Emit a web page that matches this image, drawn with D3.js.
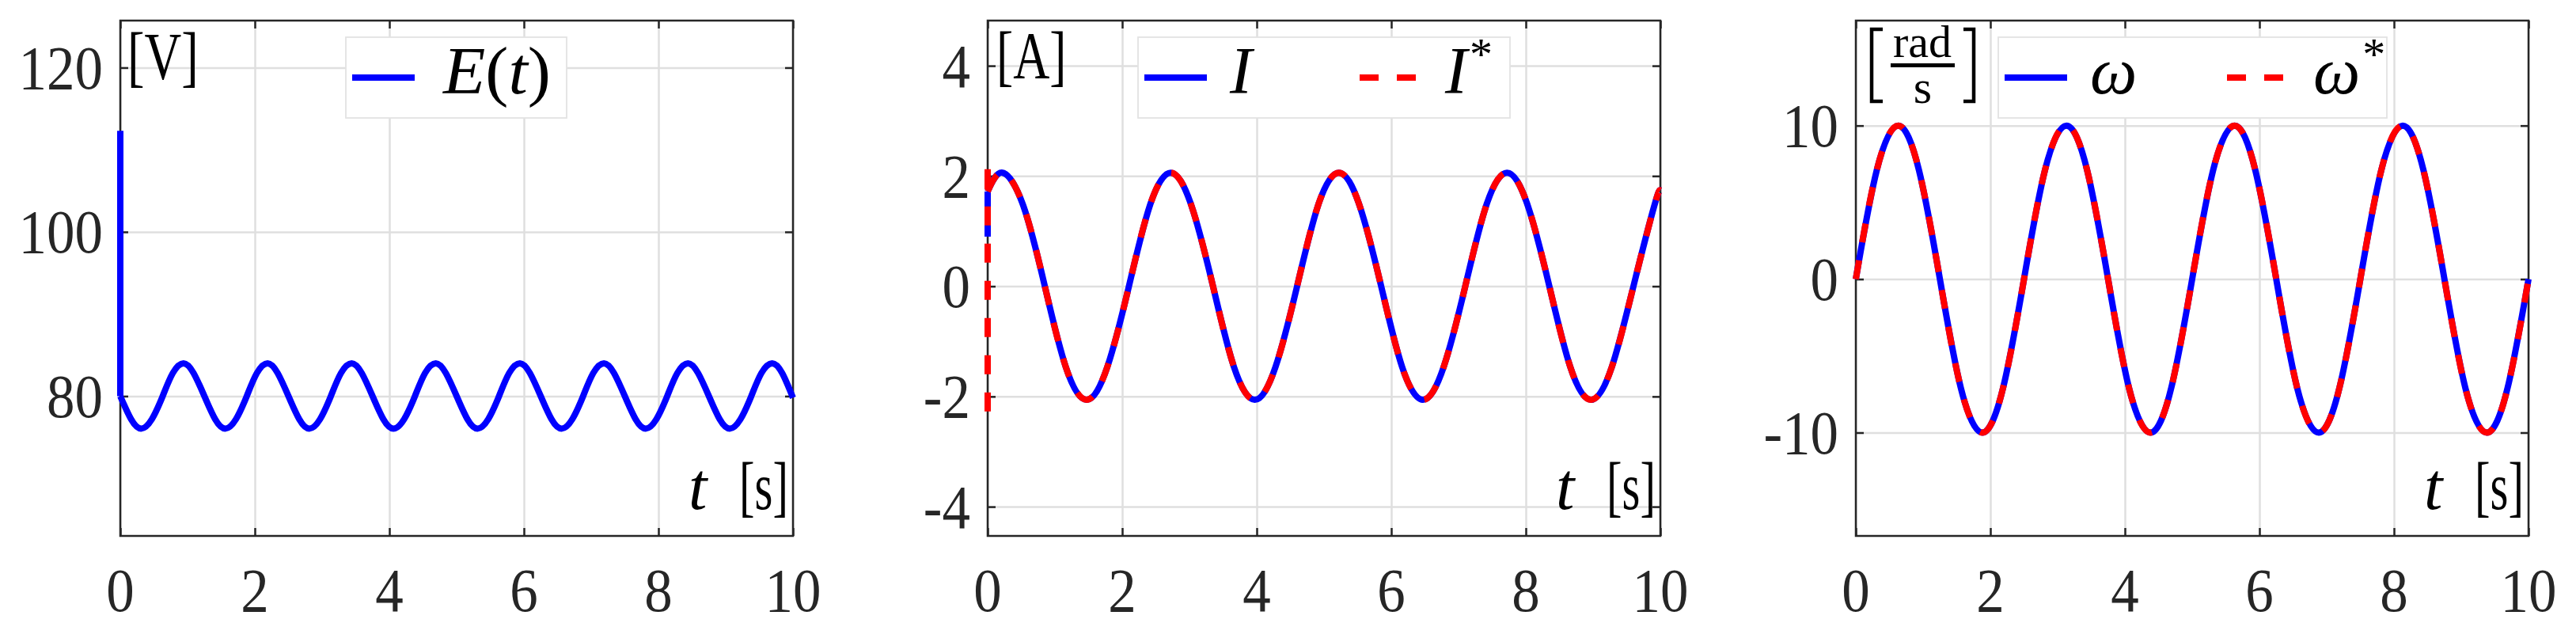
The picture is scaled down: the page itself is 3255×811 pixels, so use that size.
<!DOCTYPE html>
<html>
<head>
<meta charset="utf-8">
<script src="https://cdn.jsdelivr.net/npm/d3@7"></script>
</head>
<body style="margin:0;background:#fff">
<div id="chart"></div>
<script>
// ---- data ----
var xTicks = [0, 2, 4, 6, 8, 10];
var eTicks = [80, 100, 120];
var iTicks = [-4, -2, 0, 2, 4];
var wTicks = [-10, 0, 10];

var eDomain = [62.98, 125.73];
var iDomain = [-4.53, 4.82];
var wDomain = [-16.73, 16.84];

// E(t): start-up spike, then ripple around 80 V
var eSpikeT = [0, 0];
var eSpikeV = [112.3, 80];
var eT = [0, 0.16, 0.31, 0.47, 0.63, 0.78, 0.94, 1.09,
    1.25, 1.41, 1.56, 1.72, 1.88, 2.03, 2.19, 2.34,
    2.5, 2.66, 2.81, 2.97, 3.13, 3.28, 3.44, 3.59,
    3.75, 3.91, 4.06, 4.22, 4.38, 4.53, 4.69, 4.84,
    5, 5.16, 5.31, 5.47, 5.63, 5.78, 5.94, 6.09,
    6.25, 6.41, 6.56, 6.72, 6.88, 7.03, 7.19, 7.34,
    7.5, 7.66, 7.81, 7.97, 8.13, 8.28, 8.44, 8.59,
    8.75, 8.91, 9.06, 9.22, 9.38, 9.53, 9.69, 9.84, 10];
var eV = [80, 77.2, 76.05, 77.2, 80, 82.8, 84, 82.8,
    80, 77.2, 76.05, 77.2, 80, 82.8, 84, 82.8,
    80, 77.2, 76.05, 77.2, 80, 82.8, 84, 82.8,
    80, 77.2, 76.05, 77.2, 80, 82.8, 84, 82.8,
    80, 77.2, 76.05, 77.2, 80, 82.8, 84, 82.8,
    80, 77.2, 76.05, 77.2, 80, 82.8, 84, 82.8,
    80, 77.2, 76.05, 77.2, 80, 82.8, 84, 82.8,
    80, 77.2, 76.05, 77.2, 80, 82.8, 84, 82.8, 79.8];

// I and I*
var iStartT = [0, 0];
var iStartV = [0.9, 1.72];
var iRefStartT = [0, 0, 0];
var iRefStartV = [-2.27, 2.28, 1.72];
var iT = [0, 0.22, 0.53, 0.85, 1.16, 1.47, 1.78, 2.10, 2.41,
    2.72, 3.03, 3.35, 3.66, 3.97, 4.28, 4.60, 4.91,
    5.22, 5.53, 5.85, 6.16, 6.47, 6.78, 7.10, 7.41,
    7.72, 8.03, 8.35, 8.66, 8.97, 9.28, 9.60, 9.91, 10];
var iV = [1.72, 2.06, 1.46, 0, -1.46, -2.06, -1.46, 0, 1.46,
    2.06, 1.46, 0, -1.46, -2.06, -1.46, 0, 1.46,
    2.06, 1.46, 0, -1.46, -2.06, -1.46, 0, 1.46,
    2.06, 1.46, 0, -1.46, -2.06, -1.46, 0, 1.46, 1.74];
var iRefV = [1.72, 2.06, 1.46, 0, -1.46, -2.06, -1.46, 0, 1.46,
    2.06, 1.46, 0, -1.46, -2.06, -1.46, 0, 1.46,
    2.06, 1.46, 0, -1.46, -2.06, -1.46, 0, 1.46,
    2.06, 1.46, 0, -1.46, -2.06, -1.46, 0, 1.46, 1.74];

// omega and omega*
var wT = [0, 0.31, 0.63, 0.94, 1.25, 1.56, 1.88, 2.19,
    2.5, 2.81, 3.13, 3.44, 3.75, 4.06, 4.38, 4.69,
    5, 5.31, 5.63, 5.94, 6.25, 6.56, 6.88, 7.19,
    7.5, 7.81, 8.13, 8.44, 8.75, 9.06, 9.38, 9.69, 10];
var wV = [0, 7.07, 10, 7.07, 0, -7.07, -10, -7.07,
    0, 7.07, 10, 7.07, 0, -7.07, -10, -7.07,
    0, 7.07, 10, 7.07, 0, -7.07, -10, -7.07,
    0, 7.07, 10, 7.07, 0, -7.07, -10, -7.07, 0];
var wRefV = [0, 7.07, 10, 7.07, 0, -7.07, -10, -7.07,
    0, 7.07, 10, 7.07, 0, -7.07, -10, -7.07,
    0, 7.07, 10, 7.07, 0, -7.07, -10, -7.07,
    0, 7.07, 10, 7.07, 0, -7.07, -10, -7.07, 0];

// ---- layout ----
var W = 3255, H = 811;
var plotTop = 26, plotW = 850, plotH = 651;
var panelLeft = [152, 1248, 2345];
var axisColor = "#262626", gridColor = "#dfdfdf";
var blue = "#0000ff", red = "#ff0000";
var lw = 8, dash = "24,23";
var face = "'Liberation Serif'";

var svg = d3.select("#chart").append("svg")
    .attr("width", W)
    .attr("height", H)
    .style("display", "block");

svg.append("rect").attr("width", W).attr("height", H).attr("fill", "#fff");

var x = d3.scaleLinear().domain([0, 10]).range([0, plotW]);

// labels go on a top layer appended straight to the svg, not inside transformed groups
var textLayer;

function label(str, tx, ty, size, sx, italic) {
    var t = textLayer.append("text")
        .style("font-family", face)
        .attr("font-size", size)
        .attr("fill", "#000")
        .attr("x", tx / sx)
        .attr("y", ty);
    if (sx != 1) t.attr("transform", "scale(" + sx + ",1)");
    if (italic) t.style("font-style", "italic");
    if (str) t.text(str);
    return t;
}

function makePanel(i, yDomain, yTicks) {
    var ox = panelLeft[i], oy = plotTop;
    var g = svg.append("g")
        .attr("transform", "translate(" + ox + "," + oy + ")");
    var y = d3.scaleLinear().domain(yDomain).range([plotH, 0]);

    // grid
    g.append("g").attr("class", "grid")
        .attr("transform", "translate(0," + plotH + ")")
        .call(d3.axisBottom(x).tickValues(xTicks).tickSize(-plotH).tickFormat(""));
    g.append("g").attr("class", "grid")
        .call(d3.axisLeft(y).tickValues(yTicks).tickSize(-plotW).tickFormat(""));
    g.selectAll(".grid .domain").remove();
    g.selectAll(".grid line").attr("stroke", gridColor).attr("stroke-width", 2.5);

    // tick marks on all four sides, pointing in; labels written separately
    g.append("g").attr("class", "ax")
        .attr("transform", "translate(0," + plotH + ")")
        .call(d3.axisBottom(x).tickValues(xTicks).tickSize(-10).tickFormat(""));
    g.append("g").attr("class", "ax")
        .call(d3.axisLeft(y).tickValues(yTicks).tickSize(-10).tickFormat(""));
    g.append("g").attr("class", "ax")
        .call(d3.axisTop(x).tickValues(xTicks).tickSize(-10).tickFormat(""));
    g.append("g").attr("class", "ax")
        .attr("transform", "translate(" + plotW + ",0)")
        .call(d3.axisRight(y).tickValues(yTicks).tickSize(-10).tickFormat(""));
    g.selectAll(".ax .domain").remove();
    g.selectAll(".ax line").attr("stroke", axisColor).attr("stroke-width", 2.5);
    g.selectAll(".ax text").remove();

    g.append("rect")
        .attr("width", plotW)
        .attr("height", plotH)
        .attr("fill", "none")
        .attr("stroke", axisColor)
        .attr("stroke-width", 2.5);

    var lineSmooth = d3.line()
        .x(function (d) { return x(d[0]); })
        .y(function (d) { return y(d[1]); })
        .curve(d3.curveNatural);
    var lineStraight = d3.line()
        .x(function (d) { return x(d[0]); })
        .y(function (d) { return y(d[1]); });

    return { g: g, y: y, ox: ox, oy: oy, yTicks: yTicks, smooth: lineSmooth, straight: lineStraight };
}

// tick labels, positioned from the same scales
function tickLabels(p) {
    xTicks.forEach(function (v) {
        label(String(v), p.ox + x(v), p.oy + plotH + 95, 78, 0.91, false)
            .attr("text-anchor", "middle").attr("fill", axisColor);
    });
    p.yTicks.forEach(function (v) {
        label(String(v), p.ox - 22, p.oy + p.y(v) + 26.5, 78, 0.91, false)
            .attr("text-anchor", "end").attr("fill", axisColor);
    });
}

function drawLine(p, path, color, dashed) {
    p.g.append("path")
        .attr("d", path)
        .attr("fill", "none")
        .attr("stroke", color)
        .attr("stroke-width", lw)
        .attr("stroke-dasharray", dashed ? dash : null);
}

function legendBox(p, bx, bw) {
    p.g.append("rect")
        .attr("x", bx).attr("y", 21)
        .attr("width", bw).attr("height", 102)
        .attr("fill", "#fff")
        .attr("stroke", "#e3e3e3")
        .attr("stroke-width", 1.8);
}

function legendSample(p, x1, x2, color, dashed) {
    p.g.append("line")
        .attr("x1", x1).attr("x2", x2)
        .attr("y1", 72).attr("y2", 72)
        .attr("stroke", color)
        .attr("stroke-width", lw)
        .attr("stroke-dasharray", dashed ? dash : null);
}

function starLabel(p, sym, tx) {
    var t = label(null, p.ox + tx, p.oy + 92, 84, 1, false);
    t.append("tspan").style("font-style", "italic").text(sym);
    t.append("tspan").attr("font-size", 58).attr("dy", -30).attr("dx", 3).text("*");
}

function timeLabel(p) {
    label("t", p.ox + 718, p.oy + 617, 84, 1, true);
    label("[s]", p.ox + 782, p.oy + 617, 84, 0.7, false);
}

// ---- panels and curves ----
var p1 = makePanel(0, eDomain, eTicks);
var p2 = makePanel(1, iDomain, iTicks);
var p3 = makePanel(2, wDomain, wTicks);

drawLine(p1, p1.straight(d3.zip(eSpikeT, eSpikeV)), blue, false);
drawLine(p1, p1.smooth(d3.zip(eT, eV)), blue, false);

drawLine(p2, p2.straight(d3.zip(iStartT, iStartV)), blue, false);
drawLine(p2, p2.smooth(d3.zip(iT, iV)), blue, false);
drawLine(p2, p2.straight(d3.zip(iRefStartT, iRefStartV)), red, true);
drawLine(p2, p2.smooth(d3.zip(iT, iRefV)), red, true);

drawLine(p3, p3.smooth(d3.zip(wT, wV)), blue, false);
drawLine(p3, p3.smooth(d3.zip(wT, wRefV)), red, true);

// legends
legendBox(p1, 285, 279);
legendSample(p1, 293, 372, blue, false);
legendBox(p2, 190, 470);
legendSample(p2, 198, 277, blue, false);
legendSample(p2, 470, 541, red, true);
legendBox(p3, 180, 491);
legendSample(p3, 188, 267, blue, false);
legendSample(p3, 469, 541, red, true);

// rad/s fraction bar and tall brackets
var br = p3.g.append("g")
    .attr("fill", "none")
    .attr("stroke", "#000")
    .attr("stroke-width", 4.5);
br.append("path").attr("d", "M34,11H20V102H34");
br.append("path").attr("d", "M136,11H149V102H136");
p3.g.append("line")
    .attr("x1", 44).attr("x2", 125)
    .attr("y1", 56.5).attr("y2", 56.5)
    .attr("stroke", "#000")
    .attr("stroke-width", 5);

// ---- all text ----
textLayer = svg.append("g");
[p1, p2, p3].forEach(function (p) { tickLabels(p); timeLabel(p); });

var eLab = label(null, p1.ox + 408, p1.oy + 92, 84, 1.04, false);
eLab.append("tspan").style("font-style", "italic").text("E");
eLab.append("tspan").text("(");
eLab.append("tspan").style("font-style", "italic").text("t");
eLab.append("tspan").text(")");
label("[V]", p1.ox + 9, p1.oy + 74, 84, 0.77, false);

label("I", p2.ox + 306, p2.oy + 92, 84, 1, true);
starLabel(p2, "I", 578);
label("[A]", p2.ox + 11, p2.oy + 73, 84, 0.76, false);

label("ω", p3.ox + 296, p3.oy + 92, 84, 1, true);
starLabel(p3, "ω", 578);
label("rad", p3.ox + 84, p3.oy + 46, 58, 1, false).attr("text-anchor", "middle");
label("s", p3.ox + 84.5, p3.oy + 104, 60, 1, false).attr("text-anchor", "middle");
</script>
</body>
</html>
